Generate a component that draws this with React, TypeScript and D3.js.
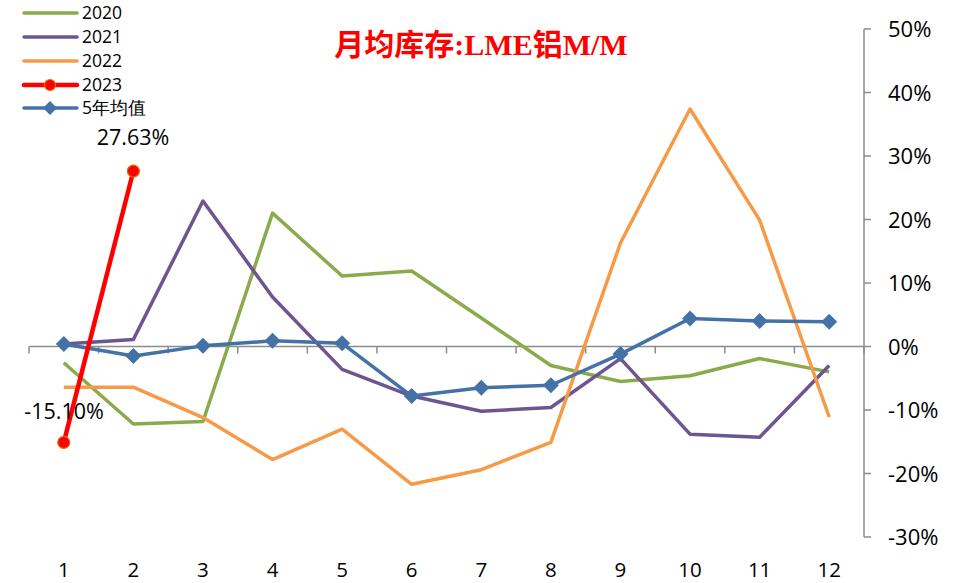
import React from "react";
import * as d3 from "d3";

const months = ["1", "2", "3", "4", "5", "6", "7", "8", "9", "10", "11", "12"];
const s2020 = [-2.55, -12.2, -11.8, 21.0, 11.1, 11.9, 4.5, -3.0, -5.5, -4.6, -1.9, -4.0];
const s2021 = [0.4, 1.1, 22.9, 7.8, -3.6, -7.8, -10.2, -9.6, -1.9, -13.8, -14.3, -3.0];
const s2022 = [-6.4, -6.4, -11.2, -17.8, -13.0, -21.7, -19.4, -15.1, 16.3, 37.4, 19.9, -11.1];
const s2023 = [-15.1, 27.63];
const avg5 = [0.4, -1.5, 0.1, 0.9, 0.5, -7.8, -6.5, -6.1, -1.2, 4.4, 4.0, 3.9];
const yTicks = [50, 40, 30, 20, 10, 0, -10, -20, -30];
const title = "月均库存:LME铝M/M";

const W = 960, H = 583;
const FONT = "'Open Sans', 'Noto Sans', sans-serif";

export default function App() {
  const x = d3.scaleBand<string>().domain(months).range([29, 864]);
  const y = d3.scaleLinear().domain([-30, 50]).range([537, 29]);
  const cx = (i: number) => (x(months[i]) as number) + x.bandwidth() / 2;
  const line = d3.line<number>().x((_, i) => cx(i)).y((d) => y(d));
  const axisC = "#8c8c8c";
  const green = "#8BAA4C", purple = "#6C5590", orange = "#F79A47", red = "#FF0000", blue = "#4471A6";

  const legend = [
    { label: "2020", color: green, w: 3.5, marker: null },
    { label: "2021", color: purple, w: 3.5, marker: null },
    { label: "2022", color: orange, w: 3.5, marker: null },
    { label: "2023", color: red, w: 4.5, marker: "circle" },
    { label: "5年均值", color: blue, w: 3.5, marker: "diamond" },
  ];
  const legY = [13, 37, 61, 85, 108];
  const diamond = (px: number, py: number, r: number) =>
    `M${px},${py - r}L${px + r},${py}L${px},${py + r}L${px - r},${py}Z`;

  return (
    <svg width={W} height={H} style={{ position: "absolute", left: 0, top: 0, background: "#fff" }}>
      {/* x axis */}
      <line x1={29} x2={864} y1={y(0)} y2={y(0)} stroke={axisC} strokeWidth={1.5} />
      {d3.range(0, 13).map((k) => {
        const xx = 29 + k * x.bandwidth();
        return <line key={k} x1={xx} x2={xx} y1={y(0)} y2={y(0) + 7} stroke={axisC} strokeWidth={1.5} />;
      })}
      {months.map((m, i) => (
        <text key={m} x={cx(i)} y={577} textAnchor="middle" fontFamily={FONT} fontSize={20.5} fill="#000">
          {m}
        </text>
      ))}
      {/* right axis */}
      <line x1={864} x2={864} y1={y(50)} y2={y(-30)} stroke={axisC} strokeWidth={1.5} />
      {yTicks.map((t) => (
        <g key={t}>
          <line x1={864} x2={871} y1={y(t)} y2={y(t)} stroke={axisC} strokeWidth={1.5} />
          <text x={888} y={y(t) + 8} fontFamily={FONT} fontSize={22} fill="#000">
            {t}%
          </text>
        </g>
      ))}
      {/* series */}
      <path d={line(s2020) || ""} fill="none" stroke={green} strokeWidth={3.5} strokeLinejoin="round" />
      <path d={line(s2021) || ""} fill="none" stroke={purple} strokeWidth={3.5} strokeLinejoin="round" />
      <path d={line(s2022) || ""} fill="none" stroke={orange} strokeWidth={3.5} strokeLinejoin="round" />
      <path d={line(avg5) || ""} fill="none" stroke={blue} strokeWidth={3.5} strokeLinejoin="round" />
      {avg5.map((v, i) => (
        <path key={i} d={diamond(cx(i), y(v), 8)} fill={blue} />
      ))}
      <path d={line(s2023) || ""} fill="none" stroke={red} strokeWidth={4.5} />
      {s2023.map((v, i) => (
        <circle key={i} cx={cx(i)} cy={y(v)} r={6} fill={red} stroke="#E46C0A" strokeWidth={1.2} />
      ))}
      <text x={133} y={145} textAnchor="middle" fontFamily={FONT} fontSize={21.5} fill="#000">
        {s2023[1].toFixed(2)}%
      </text>
      <text x={64} y={419} textAnchor="middle" fontFamily={FONT} fontSize={21.5} fill="#000">
        {s2023[0].toFixed(2)}%
      </text>
      {/* title */}
      <text x={481} y={55} textAnchor="middle" fontFamily="'Liberation Serif', 'Noto Sans CJK SC', serif" fontWeight="bold" fontSize={30} fill="#FF0000">
        {title}
      </text>
      {/* legend */}
      {legend.map((l, i) => (
        <g key={l.label}>
          <line x1={24} x2={77} y1={legY[i]} y2={legY[i]} stroke={l.color} strokeWidth={l.w} strokeLinecap="round" />
          {l.marker === "circle" && <circle cx={50} cy={legY[i]} r={5.5} fill={red} stroke="#E46C0A" strokeWidth={1.2} />}
          {l.marker === "diamond" && <path d={diamond(50, legY[i], 7)} fill={blue} />}
          <text x={82} y={legY[i] + 6} fontFamily={FONT} fontSize={17.5} fill="#000">
            {l.label}
          </text>
        </g>
      ))}
    </svg>
  );
}
